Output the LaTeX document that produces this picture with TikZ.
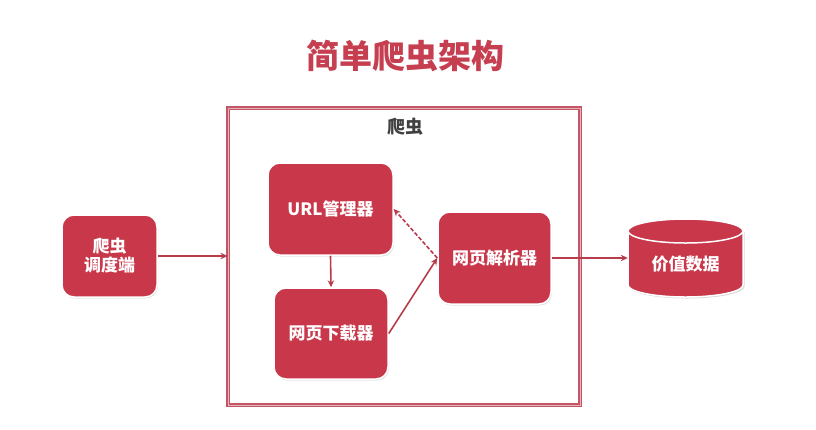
\documentclass[tikz,border=0pt]{standalone}
\usepackage{fontspec}
\newfontfamily\cjk{Noto Sans CJK SC}
\usetikzlibrary{arrows.meta,shadows}
\definecolor{boxred}{HTML}{C8374A}
\definecolor{titlered}{HTML}{C63F50}
\definecolor{framered}{HTML}{C45565}
\definecolor{arrowred}{HTML}{B93C4D}
\tikzset{
  box/.style={rounded corners=12pt, fill=boxred, draw=white, line width=1.5pt,
    text=white, font=\cjk\bfseries\fontsize{17}{21}\selectfont, align=center,
    inner sep=0pt, drop shadow={opacity=0.22, shadow xshift=1pt, shadow yshift=-1.5pt}},
  conn/.style={draw=arrowred, line width=1.6pt, -{Stealth[length=7pt,width=6.5pt]}},
}
\begin{document}
\begin{tikzpicture}[x=1pt,y=-1pt]
\useasboundingbox (0,0) rectangle (816,429);
\fill[white] (0,0) rectangle (816,429);
% title
\node[text=titlered, font=\cjk\bfseries\fontsize{33}{38}\selectfont] (title) at (405,56) {简单爬虫架构};
% frame
\node[draw=framered, double=framered!45, double distance=0.9pt, line width=1.1pt,
      minimum width=352pt, minimum height=297pt, inner sep=0pt] (crawler) at (404,256.5) {};
\node[text=black!75, font=\cjk\bfseries\fontsize{18}{22}\selectfont] (crawlerlabel) at (405,127) {爬虫};
% boxes
\node[box, minimum width=95pt, minimum height=82pt] (sched) at (109.5,256) {爬虫\\[-2pt]调度端};
\node[box, minimum width=125pt, minimum height=92pt] (url) at (330.5,209) {URL管理器};
\node[box, minimum width=114pt, minimum height=91pt] (down) at (331,333.5) {网页下载器};
\node[box, minimum width=113pt, minimum height=92pt] (parser) at (494.5,258) {网页解析器};
% cylinder
\fill[black, opacity=0.15] (629.5,232.5) -- (629.5,286.5) arc(180:0:57.5 and 12) -- (744.5,232.5) arc(360:180:57.5 and 12) -- cycle;
\filldraw[fill=boxred, draw=white, line width=1.5pt] (628,231) -- (628,285) arc(180:0:57.5 and 12) -- (743,231) arc(360:180:57.5 and 12) -- cycle;
\draw[white, line width=1.5pt] (628,231) arc(180:0:57.5 and 12);
\node[text=white, font=\cjk\bfseries\fontsize{17}{21}\selectfont, minimum width=115pt, minimum height=66pt, inner sep=0pt] (data) at (685.5,264) {价值数据};
% connectors
\draw[conn] (sched.east) -- (sched.east -| crawler.west);
\draw[conn] (url.south) -- (down.north);
\draw[conn] (down.east) -- (parser.west);
\draw[conn, dashed, dash pattern=on 4pt off 2pt] (parser.west) -- (url.east);
\draw[conn] (parser.east) -- (data.west |- parser.east);
\end{tikzpicture}
\end{document}
